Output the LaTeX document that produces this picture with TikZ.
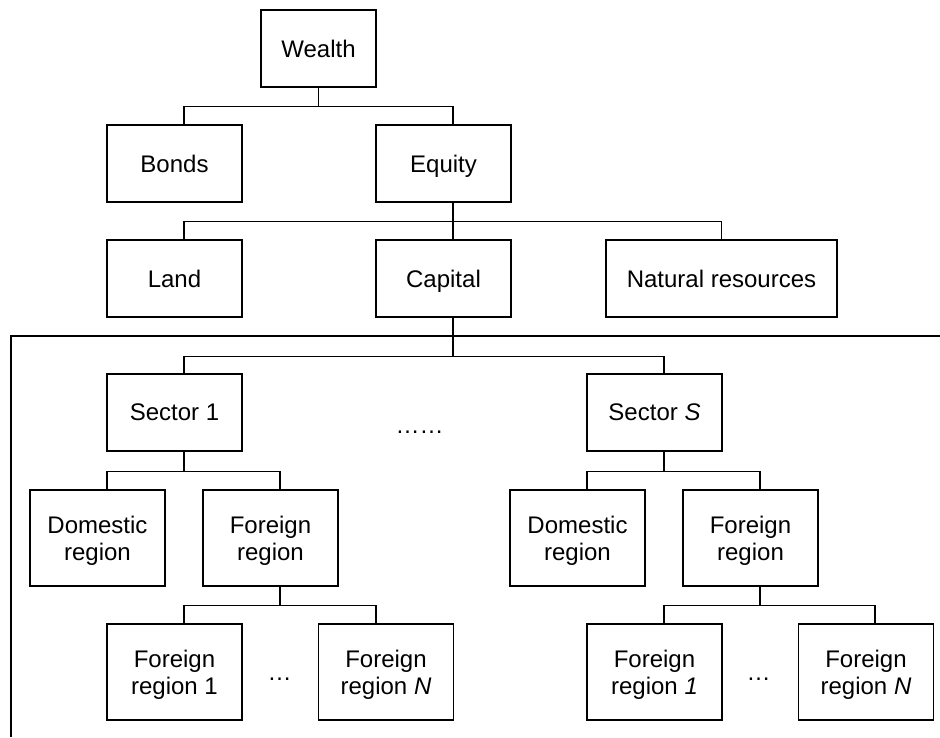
\documentclass[tikz,border=0pt]{standalone}
\usepackage{fontspec}
\setmainfont{Liberation Sans}
\usetikzlibrary{calc}
\begin{document}
\begin{tikzpicture}[x=1pt,y=-1pt,
  box/.style={draw=black,line width=1.35pt,rectangle,inner sep=0pt,
    minimum width=135pt,minimum height=77pt,align=center,text depth=0pt,
    font=\fontsize{24}{27.3}\selectfont},
  tall/.style={minimum height=96pt},
  conn/.style={draw=black,line width=1.35pt},
  frame/.style={draw=black,line width=2.5pt},
  dots/.style={inner sep=0pt,anchor=base,font=\fontsize{24}{27.3}\selectfont}]
\useasboundingbox (0,0) rectangle (940,737);
% level 0-2
\node[box,minimum width=115pt] (wealth) at (318.5,48.5) {Wealth};
\node[box] (bonds) at (174.5,163.5) {Bonds};
\node[box] (equity) at (443.5,163.5) {Equity};
\node[box] (land) at (174.5,278.5) {Land};
\node[box] (capital) at (443.5,278.5) {Capital};
\node[box,minimum width=231pt] (natres) at (721.5,278.5) {Natural resources};
% sectors
\node[box] (sec1) at (174.5,412.5) {Sector 1};
\node[box] (secS) at (654.5,412.5) {Sector \textit{S}};
\node[dots] (sdots) at (419.5,433) {……};
% left subtree
\node[box,tall] (dom1) at (97.5,538) {Domestic\\region};
\node[box,tall] (for1) at (270.5,538) {Foreign\\region};
\node[box,tall] (fr11) at (174.5,672) {Foreign\\region 1};
\node[box,tall] (fr1N) at (386,672) {Foreign\\region \textit{N}};
\node[dots] (ldots) at (279.5,680) {…};
% right subtree
\node[box,tall] (domS) at (577.5,538) {Domestic\\region};
\node[box,tall] (forS) at (750.5,538) {Foreign\\region};
\node[box,tall] (frS1) at (654.5,672) {Foreign\\region \textit{1}};
\node[box,tall] (frSN) at (866,672) {Foreign\\region \textit{N}};
\node[dots] (rdots) at (758.5,680) {…};
% connectors
\draw[conn] (wealth.south) -- ++(0,19) coordinate (j1);
\draw[conn] ([xshift=9.5pt]bonds.north) |- (j1) -| ([xshift=9.5pt]equity.north);
\draw[conn] ([xshift=9.5pt]equity.south) -- ++(0,19) coordinate (j2);
\draw[conn] ([xshift=9.5pt]land.north) |- (j2) -| (natres.north);
\draw[conn] (j2) -- ([xshift=9.5pt]capital.north);
\draw[conn] ([xshift=9.5pt]capital.south) -- ++(0,39) coordinate (j3);
\draw[conn] ([xshift=9.5pt]sec1.north) |- (j3) -| ([xshift=9.5pt]secS.north);
\draw[conn] ([xshift=9.5pt]sec1.south) -- ++(0,19.5) coordinate (j4);
\draw[conn] ([xshift=9.5pt]dom1.north) |- (j4) -| ([xshift=9.5pt]for1.north);
\draw[conn] ([xshift=9.5pt]for1.south) -- ++(0,19) coordinate (j5);
\draw[conn] ([xshift=9.5pt]fr11.north) |- (j5) -| ([xshift=-10pt]fr1N.north);
\draw[conn] ([xshift=9.5pt]secS.south) -- ++(0,19.5) coordinate (j6);
\draw[conn] ([xshift=9.5pt]domS.north) |- (j6) -| ([xshift=9.5pt]forS.north);
\draw[conn] ([xshift=9.5pt]forS.south) -- ++(0,19) coordinate (j7);
\draw[conn] ([xshift=9.5pt]frS1.north) |- (j7) -| ([xshift=9pt]frSN.north);
% frame line
\coordinate (fr) at (940,336);
\coordinate (fb) at (11,737);
\draw[frame] (fr) -| (fb);
\end{tikzpicture}
\end{document}
